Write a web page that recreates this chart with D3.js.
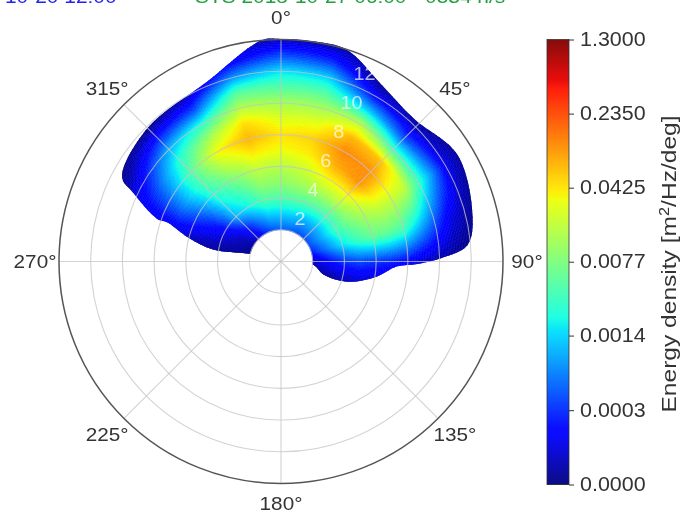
<!DOCTYPE html>
<html><head><meta charset="utf-8">
<script src="https://cdn.jsdelivr.net/npm/d3@7"></script>
<style>
html,body{margin:0;padding:0;background:#fff;overflow:hidden}
svg{display:block;filter:blur(0.7px)}
text{font-family:"Liberation Sans",Arial,sans-serif;fill:#333}
</style></head><body>
<svg id="c" width="681" height="513"></svg>
<script>
// Directions (deg, clockwise from north) and radial steps of the spectrum grid
const directions = [-90,-75,-60,-45,-30,-15,0,15,30,45,60,75,90,105,120];
const radii = [2,3,4,5,6,7,8,9,10,11,12,13,14];
// Spectral level in dB re 1 m2/Hz/deg; one row per direction, one value per radius
const spectrumDb = [
 [-44,-44,-44,-44,-44,-44,-44,-44,-44,-44,-44,-44,-44],
 [-42.6,-42.2,-41.7,-41.3,-40.8,-40.8,-41.3,-42.2,-42.6,-44,-44,-44,-44],
 [-42.2,-40.8,-38.1,-35.9,-33.7,-31.9,-32.8,-34.6,-37.7,-41.7,-44,-44,-44],
 [-40.8,-36.8,-30.1,-27.9,-25.7,-23.9,-23.4,-25.7,-30.1,-36.8,-44,-44,-44],
 [-36.8,-32.4,-26.9,-24.3,-21.2,-17.6,-14.5,-19,-25.7,-34.6,-41.3,-44,-44],
 [-34.6,-29.2,-23.8,-20.2,-17.6,-14.1,-11.4,-13.2,-18.1,-23.4,-31.5,-39,-43],
 [-33.7,-28.8,-23.8,-20.2,-18.1,-15,-13.6,-15.8,-19,-23.4,-27.9,-34.6,-40.8],
 [-33.7,-28.8,-23.3,-19.3,-16.7,-14.1,-12.7,-15.4,-19,-23.4,-28.8,-35.9,-41.7],
 [-34.6,-30.1,-23.8,-18.9,-14.5,-10.9,-9.2,-11.4,-17.6,-28.8,-38.1,-44,-44],
 [-34.6,-30.1,-24.8,-19,-14.1,-9.6,-9.6,-12.3,-24.8,-34.6,-41.3,-44,-44],
 [-34.6,-30.1,-24.8,-21.2,-18.5,-16.7,-16.7,-17.6,-24.8,-31.5,-39,-42.2,-44],
 [-36.8,-32.4,-27.9,-24.8,-22.5,-22.5,-23.9,-28.8,-33.7,-39,-41.7,-44,-44],
 [-40.8,-37.7,-35.5,-34.6,-35.5,-36.4,-38.1,-40.4,-42.2,-43,-44,-44,-44],
 [-42.2,-41.7,-40.8,-40.8,-42.2,-43,-44,-44,-44,-44,-44,-44,-44],
 [-44,-44,-44,-44,-44,-44,-44,-44,-44,-44,-44,-44,-44]
];
// Outline of the region that holds data: direction, radius
const outlineDir = [-76,-80,-75.5,-71,-71,-65,-62,-45,-22.5,-5,0,8,17,30,43,59,77,85,89,91,92.5,99,107,107,95];
const outlineRad = [2,4.35,6.05,7.6,8.25,10.3,11.35,11.9,12.25,14,14.03,14.03,14,12.8,12.3,13,12.4,11.8,10,8.6,7.3,6.1,4.35,2.8,2];
const ringValues = [2,4,6,8,10,12,14];
const ringLabels = ["2","4","6","8","10","12"];
const spokeAngles = [0,45,90,135,180,225,270,315];
const colorTickValues = [1.3,0.235,0.0425,0.0077,0.0014,0.00025,0.000045];
const colorTickLabels = ["1.3000","0.2350","0.0425","0.0077","0.0014","0.0003","0.0000"];
const leftTitle = "10-20  12:00";
const rightTitle = "STS 2018-10-27 06:00 - 0534 h/s";

const svg = d3.select("#c");
const cx = 281, cy = 261.5;
const rad = d3.scaleLinear().domain([0,14]).range([0,222]);
const toRad = d3.scaleLinear().domain([0,360]).range([0,2*Math.PI]);
const level = d3.scaleLog().domain([0.000045,1.3]).range([0,1]).clamp(true);
const rCh = d3.scaleLinear().domain([0,.35,.66,.89,1]).range([0,0,255,255,128]).clamp(true);
const gCh = d3.scaleLinear().domain([0,.125,.375,.64,.91,1]).range([0,0,255,255,0,0]).clamp(true);
const bCh = d3.scaleLinear().domain([0,.11,.34,.65,1]).range([128,255,255,0,0]).clamp(true);
const jet = t => `rgb(${Math.round(rCh(t))},${Math.round(gCh(t))},${Math.round(bCh(t))})`;
const colorOf = e => jet(level(e));
// The reference's type is wider than it is tall
function widen(sel,k){sel.each(function(){this.setAttribute("lengthAdjust","spacingAndGlyphs");this.setAttribute("textLength",this.getComputedTextLength()*k);});}

const dirIdx = d3.scaleLinear().domain(d3.extent(directions)).range([0,directions.length-1]).clamp(true);
const radIdx = d3.scaleLinear().domain(d3.extent(radii)).range([0,radii.length-1]).clamp(true);
function sample(d,r){
  const x=dirIdx(d), y=radIdx(r);
  const i=Math.min(Math.floor(x),directions.length-2), j=Math.min(Math.floor(y),radii.length-2);
  const u=x-i, v=y-j, m=spectrumDb;
  const db=(m[i][j]*(1-u)+m[i+1][j]*u)*(1-v)+(m[i][j+1]*(1-u)+m[i+1][j+1]*u)*v;
  return Math.pow(10,db/10);
}

const outline = d3.lineRadial().angle(d=>toRad(d[0])).radius(d=>rad(d[1])).curve(d3.curveCatmullRomClosed.alpha(0.5));
svg.append("clipPath").attr("id","shape").append("path")
   .attr("transform",`translate(${cx},${cy})`)
   .attr("d",outline(d3.zip(outlineDir,outlineRad)));

const heat = svg.append("g").attr("clip-path","url(#shape)").append("g").attr("transform",`translate(${cx},${cy})`);
const cells=[];
const dStep=1, rStep=0.1;
for(const d of d3.range(-85,112,dStep)) for(const r of d3.range(2,14.2,rStep)) cells.push({d,r});
const arc=d3.arc();
heat.selectAll("path").data(cells).join("path")
  .attr("d",c=>arc({innerRadius:rad(c.r),outerRadius:rad(c.r+rStep),startAngle:toRad(c.d),endAngle:toRad(c.d+dStep)}))
  .each(function(c){const col=colorOf(sample(c.d+dStep/2,c.r+rStep/2));d3.select(this).attr("fill",col).attr("stroke",col).attr("stroke-width",0.6);});

// grid
const grid = svg.append("g").attr("transform",`translate(${cx},${cy})`);
grid.selectAll("circle").data(ringValues.slice(0,-1)).join("circle")
  .attr("r",d=>rad(d)).attr("fill","none").attr("stroke","#c4c4c4").attr("stroke-opacity",0.75).attr("stroke-width",1.1);
grid.selectAll("line").data(spokeAngles).join("line")
  .attr("x1",0).attr("y1",0)
  .attr("x2",a=>rad(14)*Math.sin(toRad(a))).attr("y2",a=>-rad(14)*Math.cos(toRad(a)))
  .attr("stroke","#c4c4c4").attr("stroke-opacity",0.75).attr("stroke-width",1.1);
grid.append("circle").attr("r",rad(14)).attr("fill","none").attr("stroke","#555").attr("stroke-width",1.5);

// radial labels
grid.selectAll("text.rl").data(ringLabels).join("text").attr("class","rl")
  .attr("x",d=>(rad(+d)+15)*Math.sin(toRad(24))).attr("y",d=>-(rad(+d)+15)*Math.cos(toRad(24)))
  .attr("text-anchor","middle").attr("dominant-baseline","central")
  .style("fill","#fff").attr("fill-opacity",0.7).attr("font-size",18).text(d=>d).call(widen,1.1);

// angular labels
grid.selectAll("text.al").data(spokeAngles).join("text").attr("class","al")
  .attr("x",a=>(rad(14)+24)*Math.sin(toRad(a))).attr("y",a=>-(rad(14)+(a===180?19.5:22.5))*Math.cos(toRad(a)))
  .attr("text-anchor","middle").attr("dominant-baseline","central")
  .attr("font-size",18.5).text(a=>a+"°").call(widen,1.12);

// colour bar
const barY = d3.scaleLog().domain([0.000045,1.3]).range([484.5,39.5]);
const bar = svg.append("g").attr("transform","translate(547,0)");
const barW = 22;
bar.selectAll("rect").data(d3.range(39.5,484.5,1)).join("rect")
  .attr("x",0).attr("width",barW).attr("y",d=>d).attr("height",1.4)
  .attr("fill",d=>colorOf(barY.invert(d+0.5)));
bar.append("rect").attr("width",barW).attr("y",39.5).attr("height",445).attr("fill","none").attr("stroke","#333").attr("stroke-width",0.8);
const axis = d3.axisRight(barY).tickValues(colorTickValues)
  .tickFormat((d,i)=>colorTickLabels[i]).tickSize(5).tickPadding(6);
const ax = svg.append("g").attr("transform",`translate(${547+barW},0)`).call(axis);
ax.select(".domain").remove();
ax.selectAll("line").attr("stroke","#333");
ax.selectAll("text").attr("font-size",19.5).style("fill","#333").call(widen,1.1);

svg.append("text").attr("transform","translate(676,264) rotate(-90) scale(1.17,1)")
  .attr("text-anchor","middle").attr("font-size",21)
  .call(t=>{t.append("tspan").text("Energy density [m");
            t.append("tspan").attr("dy",-7).attr("font-size",14).text("2");
            t.append("tspan").attr("dy",7).text("/Hz/deg]");});

// clipped titles
svg.append("text").attr("x",5).attr("y",3).attr("font-size",19).style("fill","#2222ee").text(leftTitle).call(widen,1.1);
svg.append("text").attr("x",195).attr("y",3).attr("font-size",19).style("fill","#22a040").text(rightTitle).call(widen,1.1);
</script></body></html>
